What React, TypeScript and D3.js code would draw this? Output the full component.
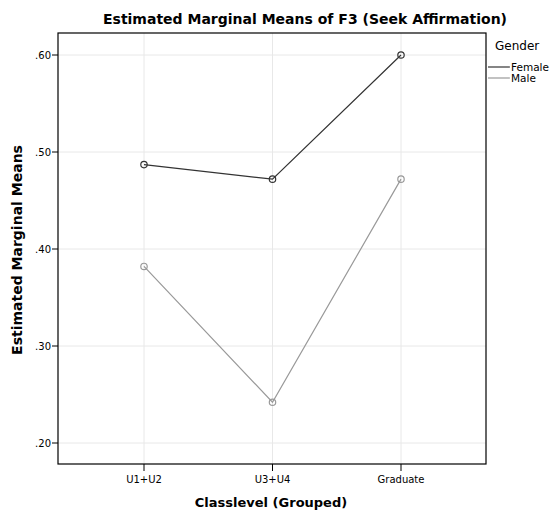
import React from "react";
import * as d3 from "d3";

const categories = ["U1+U2", "U3+U4", "Graduate"];
const female = [0.487, 0.472, 0.6];
const male = [0.382, 0.242, 0.472];
const yTicks = [0.2, 0.3, 0.4, 0.5, 0.6];
const seriesNames = ["Female", "Male"];

const W = 552, H = 516;
const frame = { left: 58, right: 486, top: 33, bottom: 464 };
const font = "DejaVu Sans, sans-serif";

export default function App() {
  const x = d3.scalePoint<string>().domain(categories).range([144, 401]);
  const y = d3.scaleLinear().domain([0.2, 0.6]).range([443, 55]);
  const fmt = (v: number) => d3.format(".2f")(v).replace(/^0/, "");
  const line = d3.line<number>().x((_, i) => x(categories[i])!).y(d => y(d));
  const series = [
    { name: seriesNames[0], values: female, color: "#333333" },
    { name: seriesNames[1], values: male, color: "#999999" },
  ];
  return (
    <svg width={W} height={H} style={{ position: "absolute", left: 0, top: 0, background: "#fff" }} fontFamily={font}>
      <rect x={0} y={0} width={W} height={H} fill="#fff" />
      {yTicks.map(t => (
        <line key={"gy" + t} x1={frame.left} x2={frame.right} y1={y(t)} y2={y(t)} stroke="#e8e8e8" />
      ))}
      {categories.map(c => (
        <line key={"gx" + c} x1={x(c)} x2={x(c)} y1={frame.top} y2={frame.bottom} stroke="#e8e8e8" />
      ))}
      <rect x={frame.left} y={frame.top} width={frame.right - frame.left} height={frame.bottom - frame.top} fill="none" stroke="#000" strokeWidth={1.2} />
      {yTicks.map(t => (
        <g key={"ty" + t}>
          <line x1={frame.left - 6} x2={frame.left} y1={y(t)} y2={y(t)} stroke="#000" />
          <text x={frame.left - 7} y={y(t)} dy="0.35em" textAnchor="end" fontSize={10} fill="#000">{fmt(t)}</text>
        </g>
      ))}
      {categories.map(c => (
        <g key={"tx" + c}>
          <line x1={x(c)} x2={x(c)} y1={frame.bottom} y2={frame.bottom + 7} stroke="#000" />
          <text x={x(c)} y={483} textAnchor="middle" fontSize={10} fill="#000">{c}</text>
        </g>
      ))}
      {series.map(s => (
        <g key={s.name}>
          <path d={line(s.values)!} fill="none" stroke={s.color} strokeWidth={1.2} />
          {s.values.map((v, i) => (
            <circle key={i} cx={x(categories[i])} cy={y(v)} r={3.2} fill="none" stroke={s.color} strokeWidth={1.2} />
          ))}
        </g>
      ))}
      <text x={305} y={24} textAnchor="middle" fontSize={14} fontWeight="bold" fill="#000">Estimated Marginal Means of F3 (Seek Affirmation)</text>
      <text x={271} y={507} textAnchor="middle" fontSize={13} fontWeight="bold" fill="#000">Classlevel (Grouped)</text>
      <text transform="translate(22,250) rotate(-90)" textAnchor="middle" fontSize={14} fontWeight="bold" fill="#000">Estimated Marginal Means</text>
      <text x={495} y={50} fontSize={12} fill="#000">Gender</text>
      {series.map((s, i) => (
        <g key={"lg" + s.name}>
          <line x1={488} x2={510} y1={67 + i * 11} y2={67 + i * 11} stroke={s.color} strokeWidth={1.2} />
          <text x={511} y={67 + i * 11} dy="0.35em" fontSize={10.5} fill="#000">{s.name}</text>
        </g>
      ))}
    </svg>
  );
}
